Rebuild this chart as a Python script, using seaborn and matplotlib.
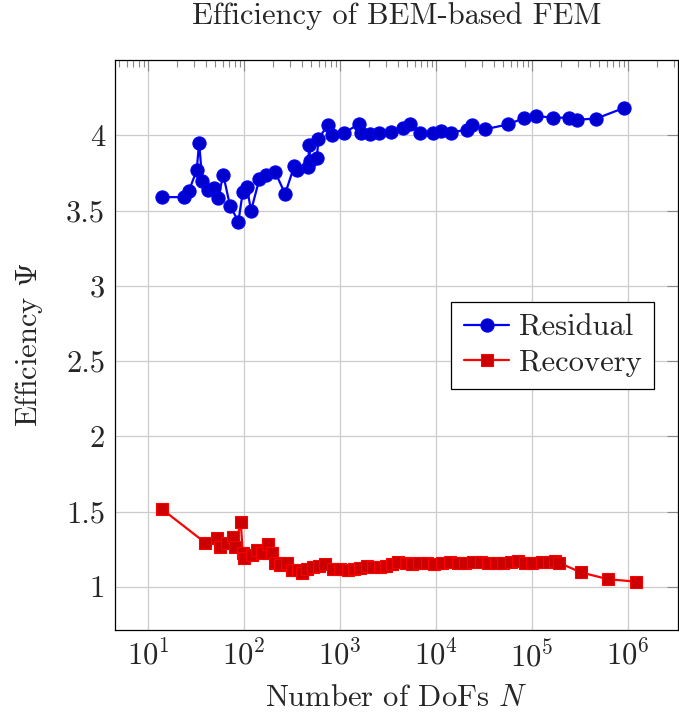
import matplotlib
matplotlib.use("Agg")
import matplotlib.pyplot as plt
import matplotlib.ticker as mticker
import seaborn as sns
import pandas as pd

# residual estimator: DoFs and efficiency
res_dofs = [13.9, 23.7, 26.7, 32.1, 34.0, 36.8, 42.5, 48.3, 53.2, 60.9, 71.4, 87.3,
            96.9, 106.6, 118.3, 144.5, 168.4, 210.4, 267.5, 332, 354, 460, 479, 487,
            572, 595, 745, 832, 1109, 1589, 1656, 2054, 2570, 3397, 4560, 5358, 6813,
            9375, 11190, 14330, 20890, 23550, 32360, 56620, 83180, 109400, 166800,
            242800, 296500, 464500, 908000]
res_eff = [3.589, 3.589, 3.633, 3.767, 3.949, 3.696, 3.638, 3.649, 3.584, 3.733,
           3.531, 3.427, 3.622, 3.656, 3.50, 3.711, 3.735, 3.756, 3.611, 3.793, 3.771,
           3.789, 3.938, 3.829, 3.849, 3.978, 4.067, 4.004, 4.016, 4.078, 4.016, 4.009,
           4.016, 4.024, 4.051, 4.078, 4.018, 4.018, 4.027, 4.018, 4.038, 4.067, 4.04,
           4.073, 4.116, 4.127, 4.118, 4.116, 4.104, 4.111, 4.182]

# recovery estimator
rec_dofs = [13.9, 39.3, 51.9, 56.2, 66, 77.5, 80.6, 92.3, 96.9, 99, 120, 135, 153,
            177, 194, 210, 237, 278, 314, 368, 400, 450, 520, 600, 700, 850, 1000,
            1200, 1400, 1600, 1900, 2200, 2600, 3000, 3500, 4000, 4800, 5600, 6600,
            8000, 9500, 11500, 14000, 17000, 20000, 24000, 29000, 35000, 42000, 50000,
            60000, 72000, 85000, 100000, 126000, 150000, 174000, 190000, 320000,
            620000, 1210000]
rec_eff = [1.517, 1.293, 1.322, 1.262, 1.289, 1.333, 1.262, 1.432, 1.227, 1.189,
           1.211, 1.244, 1.222, 1.282, 1.222, 1.156, 1.145, 1.156, 1.112, 1.112, 1.09,
           1.12, 1.13, 1.14, 1.15, 1.12, 1.115, 1.11, 1.115, 1.125, 1.14, 1.13, 1.13,
           1.14, 1.15, 1.165, 1.16, 1.15, 1.16, 1.155, 1.15, 1.16, 1.165, 1.16, 1.16,
           1.165, 1.165, 1.16, 1.16, 1.16, 1.165, 1.17, 1.16, 1.16, 1.167, 1.165,
           1.168, 1.16, 1.096, 1.050, 1.034]

y_ticks = [1, 1.5, 2, 2.5, 3, 3.5, 4]
y_labels = ["1", "1.5", "2", "2.5", "3", "3.5", "4"]

sns.set_style("white")
plt.rcParams['font.family'] = ['cmr10', 'DejaVu Serif']
plt.rcParams['mathtext.fontset'] = 'cm'
plt.rcParams['axes.formatter.use_mathtext'] = True

df_res = pd.DataFrame({'N': res_dofs, 'eff': res_eff})
df_rec = pd.DataFrame({'N': rec_dofs, 'eff': rec_eff})

fig = plt.figure(figsize=(6.79, 7.18), dpi=100)
ax = fig.add_axes([0.169, 0.1226, 0.8295, 0.7938])

sns.lineplot(data=df_res, x='N', y='eff', ax=ax, color='#0000ff', lw=1.6,
             marker='o', markersize=9.5, markerfacecolor='#0000cc',
             markeredgecolor='#0000ff', markeredgewidth=0.8,
             estimator=None, sort=False, label='Residual')
sns.lineplot(data=df_rec, x='N', y='eff', ax=ax, color='#ff0000', lw=1.6,
             marker='s', markersize=8.5, markerfacecolor='#cc0000',
             markeredgecolor='#ff0000', markeredgewidth=0.8,
             estimator=None, sort=False, label='Recovery')

ax.set_xscale('log')
ax.set_xlim(4.5, 3.3e6)
ax.set_ylim(0.713, 4.5)
ax.xaxis.set_major_locator(mticker.LogLocator(base=10, numticks=10))
ax.xaxis.set_minor_locator(mticker.LogLocator(base=10, subs=range(2, 10), numticks=20))
ax.xaxis.set_minor_formatter(mticker.NullFormatter())
ax.set_yticks(y_ticks)
ax.set_yticklabels(y_labels)

fs = 22
ax.grid(True, which='major', color='#cccccc', lw=0.9)
ax.tick_params(which='both', direction='in', top=True, right=True,
               color='#888888', labelsize=fs)
ax.tick_params(which='major', length=8, width=0.8, pad=7)
ax.tick_params(which='minor', length=5, width=0.8)
for s in ax.spines.values():
    s.set_color('black')
    s.set_linewidth(0.9)

ax.set_xlabel('Number of DoFs $N$', fontsize=fs, labelpad=9)
ax.set_ylabel('Efficiency $\\Psi$', fontsize=fs, labelpad=15)
ax.set_title('Efficiency of BEM-based FEM', fontsize=fs, pad=26)

leg = ax.legend(loc='upper right', bbox_to_anchor=(0.957, 0.575), fontsize=fs,
                frameon=True, fancybox=False, edgecolor='black', framealpha=1,
                borderpad=0.4, handlelength=1.5, handletextpad=0.3, labelspacing=0.25,
                borderaxespad=0)
leg.get_frame().set_linewidth(0.9)

plt.savefig('out.png', dpi=100)
